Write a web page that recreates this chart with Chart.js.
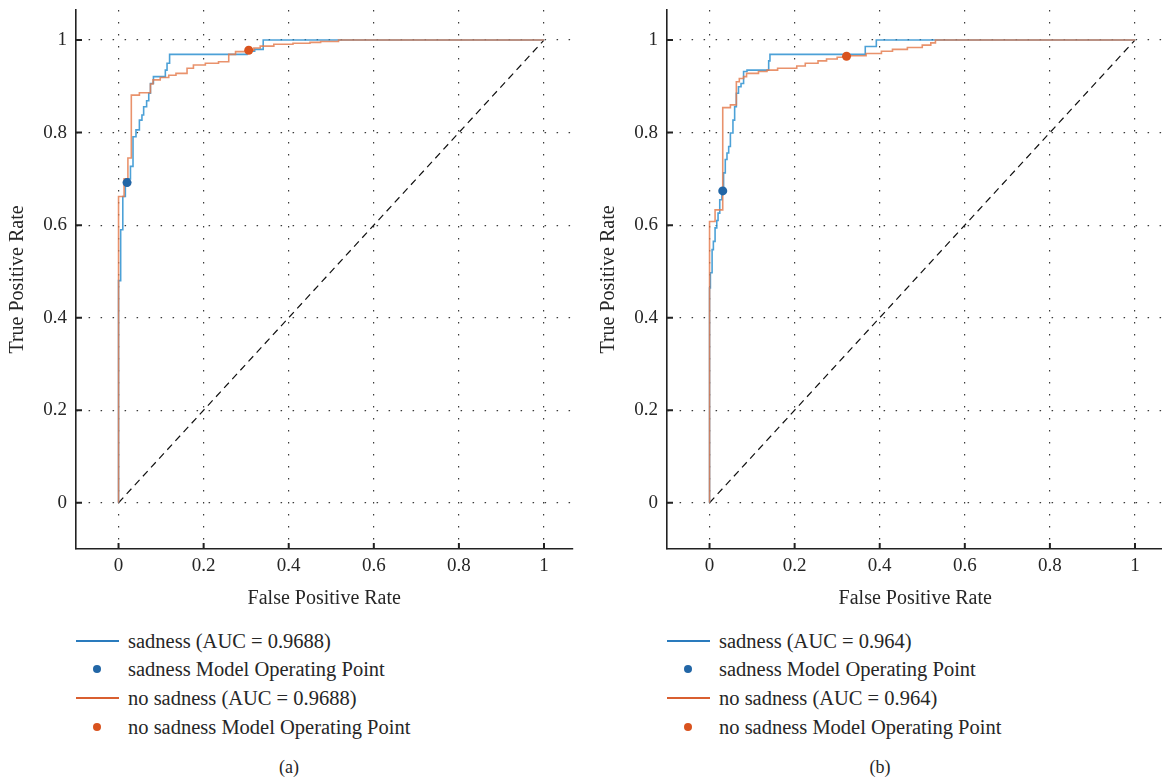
<!DOCTYPE html>
<html>
<head>
<meta charset="utf-8">
<script src="https://cdn.jsdelivr.net/npm/chart.js@4.4.1/dist/chart.umd.min.js"></script>
<style>
  html, body { margin: 0; padding: 0; background: #fff; }
  body { width: 1162px; height: 779px; position: relative; overflow: hidden;
         font-family: "Liberation Serif", "DejaVu Serif", serif; color: #262626; }
  .panel { position: absolute; top: 0; width: 577px; height: 779px; }
  .panel canvas { position: absolute; left: 0; top: 0; }
  .leg { position: absolute; left: 0; height: 28px; width: 572px; }
  .leg .line { position: absolute; left: 76px; width: 43px; height: 2px; top: 13px; }
  .leg .dot { position: absolute; left: 93px; width: 8px; height: 8px; border-radius: 50%; top: 10px; }
  .leg .txt { position: absolute; left: 128px; top: 0; line-height: 28px; font-size: 20.5px; white-space: nowrap; }
  .cap { position: absolute; top: 754px; width: 40px; margin-left: -20px; text-align: center; font-size: 18px; line-height: 26px; }
</style>
</head>
<body>
<div class="panel" id="pa" style="left:0px"><canvas id="ca" width="577" height="615"></canvas></div>
<div class="panel" id="pb" style="left:591px"><canvas id="cb" width="577" height="615"></canvas></div>
<script>
// ---------- data ----------
const tickValues = [0, 0.2, 0.4, 0.6, 0.8, 1];
const tickLabels = ["0", "0.2", "0.4", "0.6", "0.8", "1"];
const axisMin = -0.1;
const axisMaxX = 1.067;
const axisMaxY = 1.065;
const xTitle = "False Positive Rate";
const yTitle = "True Positive Rate";
const captions = ["(a)", "(b)"];

// panel (a)
const aucA = "0.9688";
const fprSadA = [0, 0, 0.005, 0.005, 0.010, 0.010, 0.016, 0.016, 0.022, 0.022, 0.028, 0.028, 0.034, 0.034, 0.041, 0.041, 0.049, 0.049, 0.055, 0.055, 0.059, 0.059, 0.066, 0.066, 0.071, 0.071, 0.075, 0.075, 0.082, 0.082, 0.110, 0.110, 0.114, 0.114, 0.120, 0.120, 0.302, 0.302, 0.320, 0.320, 0.340, 0.340, 1];
const tprSadA = [0, 0.48, 0.48, 0.59, 0.59, 0.662, 0.662, 0.685, 0.685, 0.70, 0.70, 0.727, 0.727, 0.791, 0.791, 0.806, 0.806, 0.827, 0.827, 0.838, 0.838, 0.856, 0.856, 0.869, 0.869, 0.885, 0.885, 0.906, 0.906, 0.921, 0.921, 0.935, 0.935, 0.950, 0.950, 0.969, 0.969, 0.976, 0.976, 0.980, 0.980, 1, 1];
const fprNoA = [0, 0, 0.013, 0.013, 0.022, 0.022, 0.030, 0.030, 0.049, 0.049, 0.075, 0.075, 0.081, 0.081, 0.098, 0.098, 0.118, 0.118, 0.135, 0.135, 0.161, 0.161, 0.176, 0.176, 0.204, 0.204, 0.235, 0.235, 0.259, 0.259, 0.275, 0.275, 0.306, 0.306, 0.318, 0.318, 0.333, 0.333, 0.365, 0.365, 0.410, 0.410, 0.450, 0.450, 0.475, 0.475, 0.517, 0.517, 1];
const tprNoA = [0, 0.662, 0.662, 0.70, 0.70, 0.745, 0.745, 0.881, 0.881, 0.886, 0.886, 0.905, 0.905, 0.914, 0.914, 0.919, 0.919, 0.924, 0.924, 0.928, 0.928, 0.939, 0.939, 0.946, 0.946, 0.950, 0.950, 0.953, 0.953, 0.969, 0.969, 0.975, 0.975, 0.978, 0.978, 0.983, 0.983, 0.987, 0.987, 0.991, 0.991, 0.993, 0.993, 0.995, 0.995, 0.997, 0.997, 1, 1];
const opSadA = [0.020, 0.692];
const opNoA = [0.306, 0.978];

// panel (b)
const aucB = "0.964";
const fprSadB = [0, 0, 0.002, 0.002, 0.006, 0.006, 0.009, 0.009, 0.013, 0.013, 0.017, 0.017, 0.020, 0.020, 0.024, 0.024, 0.029, 0.029, 0.033, 0.033, 0.037, 0.037, 0.041, 0.041, 0.045, 0.045, 0.049, 0.049, 0.055, 0.055, 0.059, 0.059, 0.063, 0.063, 0.068, 0.068, 0.074, 0.074, 0.080, 0.080, 0.088, 0.088, 0.139, 0.139, 0.142, 0.142, 0.366, 0.366, 0.392, 0.392, 1];
const tprSadB = [0, 0.464, 0.464, 0.497, 0.497, 0.547, 0.547, 0.565, 0.565, 0.594, 0.594, 0.610, 0.610, 0.626, 0.626, 0.655, 0.655, 0.674, 0.674, 0.713, 0.713, 0.742, 0.742, 0.756, 0.756, 0.770, 0.770, 0.799, 0.799, 0.827, 0.827, 0.856, 0.856, 0.885, 0.885, 0.899, 0.899, 0.906, 0.906, 0.932, 0.932, 0.935, 0.935, 0.955, 0.955, 0.969, 0.969, 0.986, 0.986, 1, 1];
const fprNoB = [0, 0, 0.013, 0.013, 0.031, 0.031, 0.049, 0.049, 0.063, 0.063, 0.070, 0.070, 0.080, 0.080, 0.087, 0.087, 0.115, 0.115, 0.135, 0.135, 0.160, 0.160, 0.205, 0.205, 0.225, 0.225, 0.255, 0.255, 0.275, 0.275, 0.300, 0.300, 0.322, 0.322, 0.368, 0.368, 0.404, 0.404, 0.430, 0.430, 0.465, 0.465, 0.500, 0.500, 0.520, 0.520, 0.531, 0.531, 1];
const tprNoB = [0, 0.608, 0.608, 0.633, 0.633, 0.854, 0.854, 0.860, 0.860, 0.910, 0.910, 0.917, 0.917, 0.921, 0.921, 0.928, 0.928, 0.932, 0.932, 0.935, 0.935, 0.939, 0.939, 0.944, 0.944, 0.950, 0.950, 0.955, 0.955, 0.959, 0.959, 0.963, 0.963, 0.966, 0.966, 0.971, 0.971, 0.976, 0.976, 0.980, 0.980, 0.984, 0.984, 0.989, 0.989, 0.994, 0.994, 1, 1];
const opSadB = [0.031, 0.674];
const opNoB = [0.322, 0.965];

const chanceX = [0, 1];
const chanceY = [0, 1];

// ---------- styles ----------
const FONT = '"Liberation Serif", "DejaVu Serif", serif';
const TXT = '#262626';
const blueCurve = 'rgba(45,145,208,0.85)';
const orangeCurve = 'rgba(228,122,76,0.82)';
const blueDot = '#2266a6';
const orangeDot = '#d9531e';
const blueLeg = '#2a7bbd';
const orangeLeg = '#d95f30';

const zip = (xs, ys) => xs.map((x, i) => ({x, y: ys[i]}));

const inwardTicks = {
  id: 'inwardTicks',
  afterDraw(chart) {
    const {ctx, scales: {x, y}} = chart;
    ctx.save();
    ctx.strokeStyle = '#222';
    ctx.lineWidth = 2;
    ctx.beginPath();
    x.ticks.forEach(t => {
      const px = x.getPixelForValue(t.value);
      ctx.moveTo(px, y.bottom); ctx.lineTo(px, y.bottom - 6);
    });
    y.ticks.forEach(t => {
      const py = y.getPixelForValue(t.value);
      ctx.moveTo(x.left, py); ctx.lineTo(x.left + 6, py);
    });
    ctx.stroke();
    ctx.restore();
  }
};

function axis(min, max, title, isY) {
  return {
    type: 'linear', min, max,
    afterBuildTicks: s => { s.ticks = tickValues.map(v => ({value: v})); },
    afterFit: s => {
      if (isY) s.width = 76; else s.height = 66;
      s.paddingTop = 0; s.paddingBottom = 0; s.paddingLeft = 0; s.paddingRight = 0;
    },
    ticks: {
      color: TXT, padding: isY ? 9 : 6, font: {family: FONT, size: 19},
      callback: v => tickLabels[tickValues.indexOf(v)] ?? ''
    },
    grid: { color: '#3a3a3a', lineWidth: 1.2, drawTicks: false, tickLength: 0 },
    border: { display: true, color: '#222', width: 1.6, dash: [1.5, 10.5] },
    title: {
      display: true, text: title, color: TXT, font: {family: FONT, size: 20},
      padding: isY ? {top: 6, bottom: 0} : {top: 0, bottom: 4}
    }
  };
}

function makeChart(canvasId, fs, ts, fn, tn, opS, opN) {
  new Chart(document.getElementById(canvasId), {
    type: 'scatter',
    data: {
      datasets: [
        { data: [{x: opS[0], y: opS[1]}], showLine: false, pointRadius: 4.5, pointBackgroundColor: blueDot, pointBorderWidth: 0, order: 0 },
        { data: [{x: opN[0], y: opN[1]}], showLine: false, pointRadius: 4.5, pointBackgroundColor: orangeDot, pointBorderWidth: 0, order: 0 },
        { data: zip(fn, tn), showLine: true, borderColor: orangeCurve, borderWidth: 1.6, pointRadius: 0, order: 1 },
        { data: zip(fs, ts), showLine: true, borderColor: blueCurve, borderWidth: 1.6, pointRadius: 0, order: 2 },
        { data: zip(chanceX, chanceY), showLine: true, borderColor: '#111', borderWidth: 1.2, borderDash: [7, 5], pointRadius: 0, order: 3 }
      ]
    },
    options: {
      responsive: false, animation: false, devicePixelRatio: 1,
      layout: { padding: {top: 10, left: 0, right: 0, bottom: 0} },
      plugins: { legend: {display: false}, tooltip: {enabled: false} },
      scales: {
        x: axis(axisMin, axisMaxX, xTitle, false),
        y: axis(axisMin, axisMaxY, yTitle, true)
      }
    },
    plugins: [inwardTicks]
  });
}

makeChart('ca', fprSadA, tprSadA, fprNoA, tprNoA, opSadA, opNoA);
makeChart('cb', fprSadB, tprSadB, fprNoB, tprNoB, opSadB, opNoB);

// ---------- legends (HTML) ----------
function legend(panelId, auc, caption) {
  const p = document.getElementById(panelId);
  const rows = [
    {kind: 'line', color: blueLeg, text: `sadness (AUC = ${auc})`},
    {kind: 'dot', color: blueDot, text: 'sadness Model Operating Point'},
    {kind: 'line', color: orangeLeg, text: `no sadness (AUC = ${auc})`},
    {kind: 'dot', color: orangeDot, text: 'no sadness Model Operating Point'}
  ];
  const tops = [627, 655, 684, 713];
  rows.forEach((r, i) => {
    const d = document.createElement('div');
    d.className = 'leg';
    d.style.top = tops[i] + 'px';
    const m = document.createElement('div');
    m.className = r.kind;
    m.style.background = r.color;
    const t = document.createElement('div');
    t.className = 'txt';
    t.textContent = r.text;
    d.appendChild(m); d.appendChild(t);
    p.appendChild(d);
  });
  const c = document.createElement('div');
  c.className = 'cap';
  c.style.left = '289px';
  c.textContent = caption;
  p.appendChild(c);
}
legend('pa', aucA, captions[0]);
legend('pb', aucB, captions[1]);
</script>
</body>
</html>
